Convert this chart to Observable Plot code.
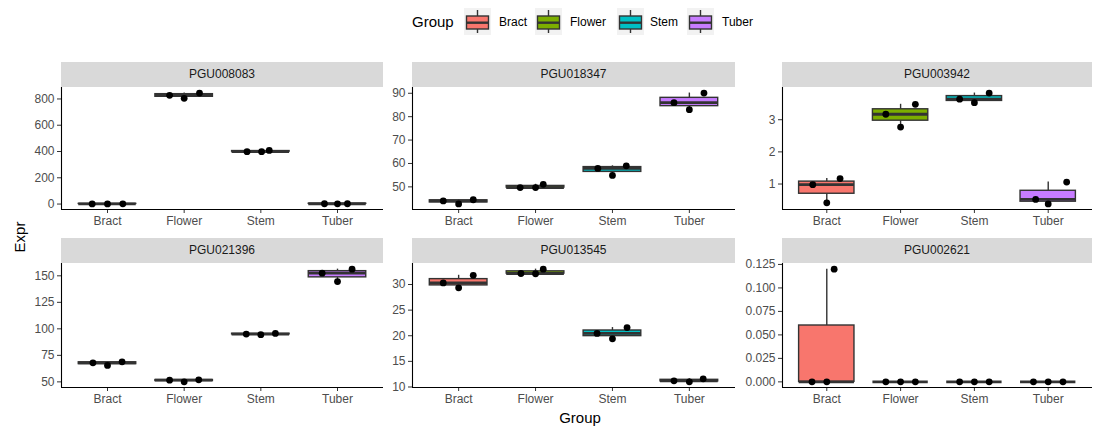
<!DOCTYPE html>
<html><head><meta charset="utf-8">
<script src="https://cdn.jsdelivr.net/npm/d3@7"></script>
<script src="https://cdn.jsdelivr.net/npm/@observablehq/plot@0.6"></script>
<style>
body{margin:0;background:#fff;font-family:"Liberation Sans",Arial,Helvetica,sans-serif;}
#chart{position:relative;width:1097px;height:426px;overflow:hidden;background:#fff;}
.strip{position:absolute;background:#D9D9D9;color:#1A1A1A;font-size:12px;text-align:center;}
.panel{position:absolute;}
.title{position:absolute;color:#000;font-size:15px;white-space:nowrap;}
</style></head><body><div id="chart"></div>
<script>
// ---- data ----
const groups = ["Bract", "Flower", "Stem", "Tuber"];
const colors = ["#F8766D", "#7CAE00", "#00BFC4", "#C77CFF"];
const genes = ["PGU008083", "PGU018347", "PGU003942", "PGU021396", "PGU013545", "PGU002621"];

// expression values: one row per group (Bract, Flower, Stem, Tuber), 3 replicates
const PGU008083 = [[1.2, 0.8, 1.5], [828, 805, 845], [399, 399, 408], [2.5, 1.8, 2.2]];
const PGU018347 = [[44.0, 42.7, 44.5], [49.7, 49.7, 51.1], [57.9, 54.9, 59.0], [86.0, 83.0, 90.1]];
const PGU003942 = [[0.98, 0.415, 1.17], [3.17, 2.77, 3.48], [3.64, 3.53, 3.83], [0.52, 0.38, 1.06]];
const PGU021396 = [[68.0, 65.5, 68.9], [51.6, 50.0, 51.9], [95.1, 94.5, 95.7], [152.5, 144.6, 156.3]];
const PGU013545 = [[30.3, 29.35, 31.8], [32.15, 32.1, 33.0], [20.45, 19.4, 21.6], [11.2, 11.0, 11.6]];
const PGU002621 = [[0, 0, 0.12], [0, 0, 0], [0, 0, 0], [0, 0, 0]];

// horizontal jitter of each replicate (fraction of a category step)
const jit008083 = [[-0.2, 0, 0.2], [-0.19, 0, 0.2], [-0.18, 0.01, 0.11], [-0.17, 0, 0.13]];
const jit018347 = [[-0.2, 0, 0.19], [-0.2, 0, 0.1], [-0.19, 0, 0.18], [-0.2, 0, 0.19]];
const jit003942 = [[-0.19, 0, 0.18], [-0.2, 0, 0.2], [-0.2, 0, 0.2], [-0.17, 0, 0.25]];
const jit021396 = [[-0.19, 0, 0.19], [-0.19, 0, 0.19], [-0.19, 0, 0.19], [-0.2, 0, 0.19]];
const jit013545 = [[-0.2, 0, 0.19], [-0.19, 0, 0.1], [-0.2, 0, 0.19], [-0.2, 0, 0.18]];
const jit002621 = [[-0.2, 0, 0.1], [-0.2, 0, 0.2], [-0.2, 0, 0.2], [-0.2, 0, 0.2]];

// y tick labels per panel
const ticks008083 = [0, 200, 400, 600, 800];
const ticks018347 = [50, 60, 70, 80, 90];
const ticks003942 = [1, 2, 3];
const ticks021396 = [50, 75, 100, 125, 150];
const ticks013545 = [10, 15, 20, 25, 30];
const ticks002621 = [0, 0.025, 0.05, 0.075, 0.1, 0.125];

const values = [PGU008083, PGU018347, PGU003942, PGU021396, PGU013545, PGU002621];
const jitters = [jit008083, jit018347, jit003942, jit021396, jit013545, jit002621];
const yticks = [ticks008083, ticks018347, ticks003942, ticks021396, ticks013545, ticks002621];
const tickFormats = [d3.format("d"), d3.format("d"), d3.format("d"), d3.format("d"), d3.format("d"), d3.format(".3f")];

// ---- layout ----
const cols = [{x0: 61, x1: 383}, {x0: 412, x1: 735}, {x0: 782, x1: 1092}];
const rows = [{s0: 62, y0: 87, y1: 209}, {s0: 238, y0: 263, y1: 387}];
const ML = 50, MB = 30;
const FONT = '"Liberation Sans", Arial, Helvetica, sans-serif';

const chart = document.getElementById("chart");

genes.forEach((gene, g) => {
  const c = cols[g % 3], r = rows[Math.floor(g / 3)];
  const pw = c.x1 - c.x0, ph = r.y1 - r.y0;

  const pts = [];
  const stats = [];
  values[g].forEach((vals, k) => {
    vals.forEach((v, rep) => pts.push({group: groups[k], i: k + 1, j: jitters[g][k][rep], v}));
    const s = vals.slice().sort(d3.ascending);
    const q1 = d3.quantile(s, 0.25), med = d3.quantile(s, 0.5), q3 = d3.quantile(s, 0.75);
    const iqr = q3 - q1;
    const lo = d3.min(s.filter(v => v >= q1 - 1.5 * iqr));
    const hi = d3.max(s.filter(v => v <= q3 + 1.5 * iqr));
    stats.push({group: groups[k], i: k + 1, q1, med, q3, lo, hi});
  });
  const all = pts.map(d => d.v);
  const mn = d3.min(all), mx = d3.max(all), pad = (mx - mn) * 0.05;
  const ydom = [mn - pad, mx + pad];

  const strip = document.createElement("div");
  strip.className = "strip";
  Object.assign(strip.style, {left: c.x0 + "px", top: r.s0 + "px", width: pw + "px", height: (r.y0 - r.s0) + "px", lineHeight: (r.y0 - r.s0) + "px"});
  strip.textContent = gene;
  chart.appendChild(strip);

  const bw = 0.375;
  const plot = Plot.plot({
    width: pw + ML, height: ph + MB,
    marginLeft: ML, marginRight: 0, marginTop: 0, marginBottom: MB,
    style: {background: "transparent", fontFamily: FONT, fontSize: "12px", overflow: "visible"},
    x: {domain: [0.4, 4.6], axis: null},
    y: {domain: ydom, axis: null},
    color: {domain: groups, range: colors},
    marks: [
      Plot.ruleX(stats, {x: "i", y1: "lo", y2: "q1", stroke: "#333333", strokeWidth: 1.4}),
      Plot.ruleX(stats, {x: "i", y1: "q3", y2: "hi", stroke: "#333333", strokeWidth: 1.4}),
      Plot.rect(stats, {x1: d => d.i - bw, x2: d => d.i + bw, y1: "q1", y2: "q3", fill: "group", stroke: "#333333", strokeWidth: 1.4}),
      Plot.ruleY(stats, {x1: d => d.i - bw, x2: d => d.i + bw, y: "med", stroke: "#333333", strokeWidth: 2.8}),
      Plot.axisY({ticks: yticks[g], tickFormat: tickFormats[g], tickSize: 4, tickPadding: 3, stroke: "#333333", fill: "#4D4D4D", label: null}),
      Plot.axisX({ticks: [1, 2, 3, 4], tickFormat: i => groups[i - 1], tickSize: 4, tickPadding: 3, stroke: "#333333", fill: "#4D4D4D", label: null}),
      Plot.ruleX([0.4], {stroke: "#000", strokeWidth: 1.1}),
      Plot.ruleY([ydom[0]], {stroke: "#000", strokeWidth: 1.1}),
      Plot.dot(pts, {x: d => d.i + d.j, y: "v", r: 3.4, fill: "#000", stroke: "none"})
    ]
  });
  plot.classList.add("panel");
  Object.assign(plot.style, {left: (c.x0 - ML) + "px", top: r.y0 + "px"});
  chart.appendChild(plot);
});

// axis titles
const ylab = document.createElement("div");
ylab.className = "title";
ylab.textContent = "Expr";
Object.assign(ylab.style, {left: "19px", top: "237px", transform: "translate(-50%,-50%) rotate(-90deg)"});
chart.appendChild(ylab);
const xlab = document.createElement("div");
xlab.className = "title";
xlab.textContent = "Group";
Object.assign(xlab.style, {left: "580px", top: "417px", transform: "translate(-50%,-50%)"});
chart.appendChild(xlab);

// legend
const keyX = [464, 535, 617, 687];
const labX = [499, 570, 650, 722];
const svg = d3.select(chart).append("svg")
  .attr("width", 1097).attr("height", 45)
  .style("position", "absolute").style("left", "0px").style("top", "0px")
  .style("font-family", FONT);
svg.append("text").attr("x", 412).attr("y", 21.5).attr("dominant-baseline", "central")
  .attr("font-size", 15).attr("fill", "#000").text("Group");
groups.forEach((grp, k) => {
  const x = keyX[k], y = 8, s = 27;
  const gk = svg.append("g");
  gk.append("rect").attr("x", x).attr("y", y).attr("width", s).attr("height", s).attr("fill", "#F2F2F2");
  gk.append("line").attr("x1", x + s / 2).attr("x2", x + s / 2).attr("y1", y + 2).attr("y2", y + 25).attr("stroke", "#333333").attr("stroke-width", 1.4);
  gk.append("rect").attr("x", x + 2.5).attr("y", y + 8).attr("width", s - 5).attr("height", 13).attr("fill", colors[k]).attr("stroke", "#333333").attr("stroke-width", 1.4);
  gk.append("line").attr("x1", x + 2.5).attr("x2", x + s - 2.5).attr("y1", y + 14.7).attr("y2", y + 14.7).attr("stroke", "#333333").attr("stroke-width", 2.4);
  svg.append("text").attr("x", labX[k]).attr("y", 21.5).attr("dominant-baseline", "central")
    .attr("font-size", 12).attr("fill", "#000").text(grp);
});
</script>
</body></html>
